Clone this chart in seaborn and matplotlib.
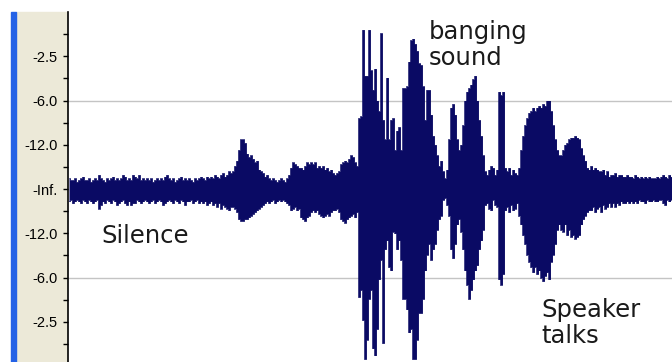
import numpy as np
import matplotlib
matplotlib.use("Agg")
import matplotlib.pyplot as plt
import seaborn as sns
from matplotlib.patches import Rectangle

# waveform envelope, one value per 2-px screen column, in % of full scale
amp_top = [
    6, 5, 5, 6, 4, 5, 6, 7, 5, 5,
    6, 4, 5, 6, 5, 8, 6, 5, 4, 6,
    5, 6, 7, 5, 6, 5, 6, 8, 7, 5,
    6, 5, 8, 7, 6, 8, 5, 6, 5, 6,
    5, 6, 4, 5, 6, 5, 6, 5, 7, 8,
    6, 5, 6, 4, 5, 6, 7, 5, 6, 5,
    6, 5, 4, 6, 5, 6, 7, 6, 5, 7,
    6, 7, 6, 8, 7, 6, 8, 9, 7, 8,
    10, 9,
    10, 13, 16, 22, 28, 28, 26, 20, 18, 19,
    17, 15, 16, 11, 10, 9, 7, 8, 6, 5,
    6, 5, 4, 5, 6, 5, 4, 6, 8, 12,
    15, 14, 13, 12, 12, 11, 13, 15, 14, 15,
    14, 15, 12, 13, 12, 13, 11, 12, 10, 11,
    9, 8, 9, 10, 14, 15, 16, 15, 17, 19,
    18, 15, 13,
    40, 41, 90, 64, 64, 90, 67, 56, 68, 50,
    44, 88, 39, 28, 63, 28, 39, 40, 22, 33,
    35, 22, 57, 57, 58, 72, 84, 85, 82, 78,
    71,
    70, 58, 39, 56, 56, 42, 30, 25, 19, 13,
    16, 10, 6, 11, 28, 46, 48, 42, 28, 22,
    25, 36, 50, 55, 57, 59, 62, 64, 50, 39,
    30, 19, 10, 8, 11, 13, 12, 8, 11, 55,
    53, 55, 12, 10, 12, 8, 11, 9, 8, 12,
    22, 30, 36, 40, 43, 44, 46, 44, 46, 47,
    46, 48, 47, 50, 50, 44, 36, 28, 22, 19,
    19, 22, 25, 26, 28, 29, 29, 30, 29, 28,
    23, 19, 16, 12, 11, 13, 11, 12, 11, 10,
    10, 11, 8, 10, 7, 8, 8, 9, 7, 8,
    8, 7, 7, 8, 7, 7, 6, 8, 7, 6,
    7, 6, 7, 6, 7, 6, 6, 6, 7, 6,
    7, 8, 7, 6, 8, 7,
]
amp_bottom = [
    7, 6, 8, 7, 6, 7, 8, 6, 7, 8,
    6, 7, 8, 7, 6, 11, 9, 7, 8, 6,
    7, 8, 6, 7, 9, 8, 7, 6, 8, 9,
    7, 9, 8, 8, 6, 7, 8, 7, 6, 7,
    8, 7, 6, 8, 7, 6, 7, 9, 8, 7,
    6, 7, 8, 6, 7, 8, 6, 7, 9, 7,
    7, 6, 8, 7, 6, 8, 7, 8, 7, 9,
    8, 7, 9, 8, 10, 8, 11, 9, 10, 11,
    12, 10,
    10, 11, 13, 17, 18, 18, 17, 17, 16, 15,
    14, 13, 12, 11, 10, 9, 8, 7, 8, 7,
    6, 8, 7, 6, 7, 6, 7, 8, 9, 12,
    11, 10, 12, 11, 16, 17, 18, 16, 15, 13,
    12, 13, 12, 14, 15, 16, 15, 14, 15, 13,
    12, 12, 11, 13, 17, 18, 19, 17, 16, 15,
    14, 16, 13,
    61, 57, 74, 96, 85, 62, 57, 90, 94, 79,
    51, 40, 87, 34, 29, 44, 46, 24, 25, 34,
    29, 40, 62, 62, 68, 81, 79, 96, 96, 85,
    70,
    70, 62, 46, 37, 31, 40, 34, 31, 23, 17,
    15, 6, 5, 9, 15, 34, 39, 31, 20, 17,
    24, 34, 46, 54, 62, 57, 51, 46, 43, 34,
    29, 23, 9, 8, 11, 12, 6, 9, 10, 51,
    54, 48, 12, 10, 13, 9, 12, 11, 8, 15,
    20, 26, 31, 37, 41, 44, 47, 44, 48, 46,
    50, 52, 49, 47, 51, 41, 37, 31, 23, 20,
    23, 24, 20, 26, 23, 27, 26, 28, 27, 26,
    20, 17, 15, 13, 12, 12, 10, 13, 11, 10,
    13, 9, 11, 10, 8, 10, 8, 10, 8, 9,
    7, 8, 8, 7, 8, 7, 8, 7, 8, 6,
    7, 7, 8, 6, 7, 7, 6, 7, 7, 6,
    6, 8, 9, 6, 7, 6,
]

tick_pos = [0.75, 0.5, 0.25, 0.0, -0.25, -0.5, -0.75]
tick_labels = ["-2.5", "-6.0", "-12.0", "-Inf.", "-12.0", "-6.0", "-2.5"]
minor_pos = [0.875, 0.625, 0.375, 0.125, -0.125, -0.375, -0.625, -0.875]

# (text, column, baseline of last line)
notes = [("banging\nsound", 179.5, 0.70), ("Silence", 16, -0.305), ("Speaker\ntalks", 236, -0.870)]

wave_color = "#0a0a64"

sns.set_theme(style="white")
plt.rcParams["font.family"] = ["DejaVu Sans"]

W, H = 672, 362
fig = plt.figure(figsize=(W / 100, H / 100), dpi=100)
fig.patch.set_facecolor("white")

# ruler panel and blue track strip
fig.patches.append(Rectangle((16 / W, 0), (67 - 16) / W, (H - 12) / H,
                             transform=fig.transFigure, color="#ece9d8", zorder=-5))
fig.patches.append(Rectangle((11 / W, 0), 5 / W, (H - 12) / H,
                             transform=fig.transFigure, color="#2462e6", zorder=-5))

ax = fig.add_axes([67.5 / W, 0, (W - 67.5) / W, (H - 12) / H])
ax.set_facecolor("white")

top = np.array(amp_top) / 100.0
bot = -np.array(amp_bottom) / 100.0
cols = np.arange(len(top))

for g in (0.5, -0.5):
    ax.axhline(g, color="#c4c4c4", lw=1.0, zorder=1)

ax.fill_between(cols, bot, top, step="mid", color=wave_color, linewidth=0, zorder=2)
sns.lineplot(x=cols, y=top, drawstyle="steps-mid", color=wave_color, lw=0.5, ax=ax, zorder=3)
sns.lineplot(x=cols, y=bot, drawstyle="steps-mid", color=wave_color, lw=0.5, ax=ax, zorder=3)

ax.set_xlim(-0.75, len(top) - 0.75)
ax.set_ylim(-0.977, 1.0)

ax.set_yticks(tick_pos)
ax.set_yticklabels(tick_labels, fontfamily="Liberation Sans", fontsize=10.5, color="black")
ax.set_yticks(minor_pos, minor=True)
ax.set_xticks([])
ax.tick_params(axis="y", which="both", direction="out", length=3.6, width=1.0,
               color="black", pad=3.5, left=True)
for s in ("top", "right", "bottom"):
    ax.spines[s].set_visible(False)
ax.spines["left"].set_color("black")
ax.spines["left"].set_linewidth(1.2)

for label, x, y in notes:
    ax.text(x, y, label, fontsize=17.5, color="#1a1a1a", va="baseline", ha="left",
            linespacing=1.12, zorder=4)

fig.savefig("out.png", dpi=100, facecolor="white")
